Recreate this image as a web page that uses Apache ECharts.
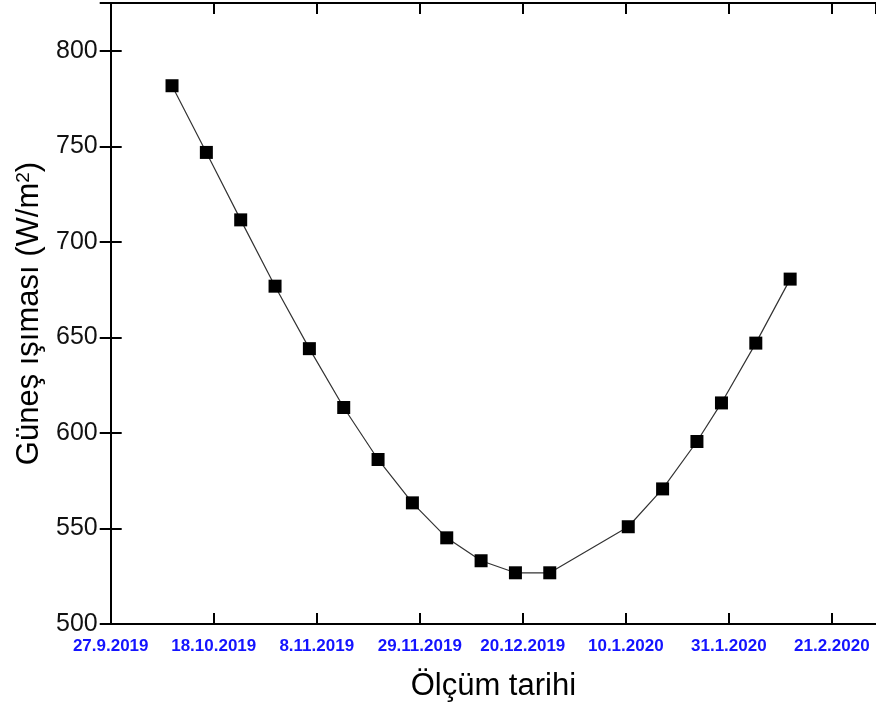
<!DOCTYPE html>
<html>
<head>
<meta charset="utf-8">
<script src="https://cdn.jsdelivr.net/npm/echarts@6/dist/echarts.min.js"></script>
<style>
html,body{margin:0;padding:0;background:#fff;}
#chart{width:876px;height:708px;}
</style>
</head>
<body>
<div id="chart"></div>
<script>
const measureDates = [
  '2019-10-09T12:00Z','2019-10-16T12:00Z','2019-10-23T12:00Z','2019-10-30T12:00Z',
  '2019-11-06T12:00Z','2019-11-13T12:00Z','2019-11-20T12:00Z','2019-11-27T12:00Z',
  '2019-12-04T12:00Z','2019-12-11T12:00Z','2019-12-18T12:00Z','2019-12-25T12:00Z',
  '2020-01-10T12:00Z','2020-01-17T12:00Z','2020-01-24T12:00Z','2020-01-29T12:00Z',
  '2020-02-05T12:00Z','2020-02-12T12:00Z'
];
// Solar irradiance values (W/m2)
const irradiance = [
  781.7, 746.8, 711.5, 676.8, 644.1, 613.3, 586.1, 563.4, 545.1,
  533.1, 526.8, 526.8, 550.9, 570.7, 595.5, 615.7, 647.0, 680.5
];
// Axis tick labels
const xTickLabels = ['27.9.2019','18.10.2019','8.11.2019','29.11.2019','20.12.2019','10.1.2020','31.1.2020','21.2.2020'];
const yTickLabels = ['500','550','600','650','700','750','800'];

const originMs = Date.parse('2019-09-27T00:00Z');
const DAY = 86400000;
const toDay = s => (Date.parse(s) - originMs) / DAY;
const seriesData = measureDates.map((d, i) => [toDay(d), irradiance[i]]);

const tickStepDays = 21;
const xMaxDays = toDay('2020-03-01T00:00Z');

const axisLineStyle = { color: '#000', width: 2 };
const tickStyle = { show: true, inside: true, length: 11, lineStyle: { color: '#000', width: 2 } };

const chart = echarts.init(document.getElementById('chart'), null, { renderer: 'canvas' });
chart.setOption({
  backgroundColor: '#fff',
  animation: false,
  grid: { left: 110.7, right: 0, top: 3, bottom: 84, containLabel: false },
  xAxis: [{
    type: 'value', position: 'bottom',
    min: 0, max: xMaxDays, interval: tickStepDays,
    axisLine: { show: true, lineStyle: axisLineStyle },
    axisTick: tickStyle,
    splitLine: { show: false },
    axisLabel: {
      margin: 14, color: '#1414ff', fontWeight: 'bold', fontSize: 17,
      fontFamily: 'Liberation Sans, Arial, sans-serif',
      showMaxLabel: false,
      formatter: v => {
        const k = Math.round(v / tickStepDays);
        return (Math.abs(v - k * tickStepDays) < 1e-6 && xTickLabels[k]) ? xTickLabels[k] : '';
      }
    },
    name: 'Ölçüm tarihi', nameLocation: 'middle', nameGap: 47,
    nameTextStyle: { fontSize: 31, color: '#000', fontFamily: 'Liberation Sans, Arial, sans-serif' }
  }, {
    type: 'value', position: 'top',
    min: 0, max: xMaxDays, interval: tickStepDays,
    axisLine: { show: true, lineStyle: axisLineStyle },
    axisTick: tickStyle,
    splitLine: { show: false },
    axisLabel: { show: false }
  }],
  yAxis: [{
    type: 'value', position: 'left',
    min: 500, max: 825, interval: 50,
    axisLine: { show: true, lineStyle: axisLineStyle },
    axisTick: tickStyle,
    splitLine: { show: false },
    axisLabel: {
      margin: 13, color: '#111', fontSize: 25,
      fontFamily: 'Liberation Sans, Arial, sans-serif',
      formatter: v => yTickLabels.includes(String(v)) ? String(v) : ''
    },
    name: 'Güneş ışıması (W/m{sup|2})', nameLocation: 'middle', nameGap: 62, nameRotate: 90,
    nameTextStyle: {
      fontSize: 31, color: '#000', fontFamily: 'Liberation Sans, Arial, sans-serif',
      rich: { sup: { fontSize: 19, color: '#000', verticalAlign: 'top', fontFamily: 'Liberation Sans, Arial, sans-serif' } }
    }
  }, {
    type: 'value', position: 'right',
    min: 500, max: 825, interval: 50,
    axisLine: { show: true, lineStyle: axisLineStyle },
    axisTick: tickStyle,
    splitLine: { show: false },
    axisLabel: { show: false }
  }],
  series: [{
    type: 'line',
    xAxisIndex: 0, yAxisIndex: 0,
    data: seriesData,
    symbol: 'rect', symbolSize: 13,
    itemStyle: { color: '#000' },
    lineStyle: { color: '#333', width: 1.2 },
    z: 3
  }]
});
</script>
</body>
</html>
